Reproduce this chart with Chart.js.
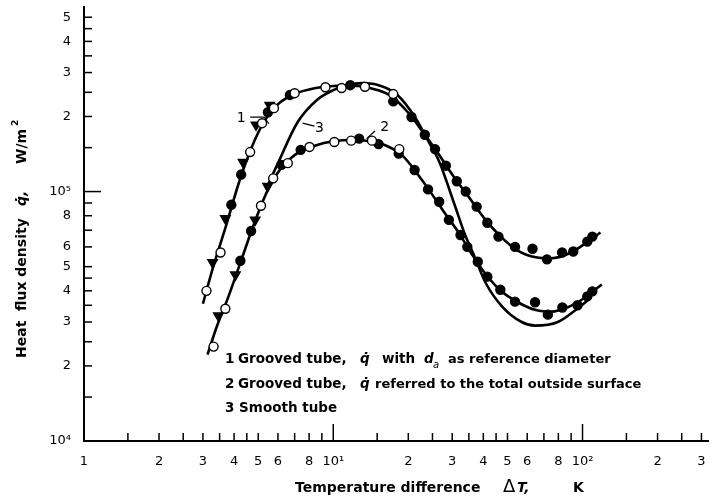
<!DOCTYPE html>
<html>
<head>
<meta charset="utf-8">
<script src="https://cdn.jsdelivr.net/npm/chart.js@4"></script>
<style>
  body { margin: 0; background: #fff; }
  canvas { display: block; }
</style>
</head>
<body>
<canvas id="myChart" width="715" height="497"></canvas>
<script>
// ---- data (dT in K, q in W/m2) ----
// curve 1: grooved tube, q with d_a as reference diameter
var curve1X = [3.0, 3.3, 3.7, 4.2, 4.7, 5.3, 6.0, 7.0, 8.5, 10, 12, 14, 17, 20, 23, 26, 30, 35, 40, 47, 55, 65, 75, 90, 105, 118];
var curve1Y = [3.55e4, 5.0e4, 7.2e4, 1.1e5, 1.5e5, 1.92e5, 2.24e5, 2.46e5, 2.6e5, 2.65e5, 2.66e5, 2.6e5, 2.42e5, 2.07e5, 1.72e5, 1.45e5, 1.17e5, 9.5e4, 7.9e4, 6.6e4, 5.8e4, 5.45e4, 5.4e4, 5.7e4, 6.3e4, 6.85e4];
var s1OpenX = [3.1, 3.53, 4.64, 5.18, 5.78, 7.0, 9.3, 10.8, 13.4, 17.4];
var s1OpenY = [4.0e4, 5.7e4, 1.44e5, 1.88e5, 2.16e5, 2.48e5, 2.62e5, 2.6e5, 2.63e5, 2.46e5];
var s1TriX = [3.28, 3.69, 4.35, 4.9, 5.56];
var s1TriY = [5.2e4, 7.8e4, 1.31e5, 1.85e5, 2.22e5];
var s1FillX = [3.9, 4.27, 5.47, 6.7, 11.7, 17.4, 20.6, 23.3, 25.6, 28.3, 31.3, 34, 37.6, 41.5, 46, 53.6, 63, 72, 82.8, 91.8, 104.5, 109.5];
var s1FillY = [8.85e4, 1.17e5, 2.08e5, 2.44e5, 2.67e5, 2.3e5, 1.99e5, 1.69e5, 1.48e5, 1.27e5, 1.1e5, 1.0e5, 8.7e4, 7.5e4, 6.6e4, 6.0e4, 5.9e4, 5.35e4, 5.7e4, 5.75e4, 6.3e4, 6.6e4];

// curve 2: grooved tube, q referred to the total outside surface
var curve2X = [3.13, 3.4, 3.8, 4.3, 4.9, 5.5, 6.2, 7, 8.5, 10, 12, 14, 16.5, 19, 22, 25, 28, 32, 36, 41, 47, 55, 65, 75, 88, 100, 110, 119.5];
var curve2Y = [2.22e4, 2.85e4, 3.8e4, 5.4e4, 7.8e4, 1.03e5, 1.25e5, 1.4e5, 1.53e5, 1.59e5, 1.61e5, 1.59e5, 1.52e5, 1.39e5, 1.16e5, 9.7e4, 8.2e4, 6.8e4, 5.6e4, 4.65e4, 4.0e4, 3.6e4, 3.35e4, 3.3e4, 3.45e4, 3.7e4, 3.98e4, 4.24e4];
var s2OpenX = [3.31, 3.69, 5.13, 5.74, 6.57, 8.03, 10.1, 11.8, 14.3, 18.4];
var s2OpenY = [2.39e4, 3.39e4, 8.77e4, 1.13e5, 1.3e5, 1.51e5, 1.58e5, 1.6e5, 1.6e5, 1.48e5];
var s2TriX = [3.46, 4.05, 4.86, 5.45];
var s2TriY = [3.18e4, 4.64e4, 7.7e4, 1.05e5];
var s2FillX = [4.24, 4.68, 6.2, 7.4, 12.7, 15.2, 18.3, 21.2, 24, 26.6, 29.1, 32.4, 34.5, 38, 41.5, 46.8, 53.6, 64.5, 72.6, 83, 95.5, 104.5, 109.5];
var s2FillY = [5.28e4, 6.95e4, 1.28e5, 1.47e5, 1.63e5, 1.55e5, 1.42e5, 1.22e5, 1.02e5, 9.1e4, 7.7e4, 6.7e4, 6.0e4, 5.23e4, 4.56e4, 4.04e4, 3.62e4, 3.6e4, 3.21e4, 3.43e4, 3.5e4, 3.8e4, 3.98e4];

// curve 3: smooth tube
var curve3X = [5.37, 6.0, 7.2, 8.6, 10, 11.5, 13, 15, 18, 21.4, 24, 26.6, 30.5, 34, 36.3, 40.9, 47.6, 57, 64.5, 79.6, 95.5, 106];
var curve3Y = [1.02e5, 1.3e5, 1.9e5, 2.33e5, 2.55e5, 2.68e5, 2.72e5, 2.68e5, 2.45e5, 1.97e5, 1.6e5, 1.32e5, 9.0e4, 6.6e4, 5.7e4, 4.3e4, 3.46e4, 3.0e4, 2.9e4, 3.0e4, 3.4e4, 3.7e4];

// axis ticks
var xTicks = [1, 1.5, 2, 2.5, 3, 3.5, 4, 4.5, 5, 6, 7, 8, 9, 10, 15, 20, 25, 30, 35, 40, 45, 50, 60, 70, 80, 90, 100, 150, 200, 250, 300];
var xTickLabels = {1: '1', 2: '2', 3: '3', 4: '4', 5: '5', 6: '6', 8: '8', 10: '10\u00b9', 20: '2', 30: '3', 40: '4', 50: '5', 60: '6', 80: '8', 100: '10\u00b2', 200: '2', 300: '3'};
var yTicks = [1e4, 1.5e4, 2e4, 2.5e4, 3e4, 3.5e4, 4e4, 4.5e4, 5e4, 6e4, 7e4, 8e4, 9e4, 1e5, 1.5e5, 2e5, 2.5e5, 3e5, 3.5e5, 4e5, 4.5e5, 5e5];
var yTickLabels = {10000: '10\u2074', 20000: '2', 30000: '3', 40000: '4', 50000: '5', 60000: '6', 80000: '8', 100000: '10\u2075', 200000: '2', 300000: '3', 400000: '4', 500000: '5'};

// curve numbers: [label, x, y, leader points]
var curveNotes = [
  ['1', 4.27, 1.97e5, [[4.64, 1.99e5], [5.28, 1.99e5], [5.52, 1.87e5]]],
  ['3', 8.8, 1.8e5, [[7.53, 1.88e5], [8.4, 1.83e5]]],
  ['2', 16.1, 1.81e5, [[14.7, 1.75e5], [13.6, 1.63e5]]]
];

function pts(xs, ys) {
  return xs.map(function (x, i) { return {x: x, y: ys[i]}; });
}

function lineSet(xs, ys) {
  return {data: pts(xs, ys), showLine: true, pointRadius: 0, borderColor: '#000', borderWidth: 2.6,
    cubicInterpolationMode: 'monotone', fill: false, order: 10};
}
function markSet(xs, ys, style, fillColor) {
  return {data: pts(xs, ys), showLine: false, pointStyle: style, rotation: style === 'triangle' ? 180 : 0,
    pointRadius: style === 'triangle' ? 5.5 : 4.5, backgroundColor: fillColor, borderColor: '#000',
    borderWidth: 1.4, order: 1};
}

var decorations = {
  id: 'decorations',
  beforeDraw: function (chart) {
    var c = chart.ctx;
    c.save();
    c.fillStyle = '#fff';
    c.fillRect(0, 0, chart.width, chart.height);
    c.restore();
  },
  afterDraw: function (chart) {
    var c = chart.ctx;
    var xs = chart.scales.x, ys = chart.scales.y;
    var area = chart.chartArea;
    c.save();
    c.strokeStyle = '#000';
    c.fillStyle = '#000';
    c.lineWidth = 1.5;
    // tick marks pointing inwards
    xTicks.forEach(function (v) {
      var px = xs.getPixelForValue(v);
      var len = (v === 10 || v === 100) ? 17 : 8;
      c.beginPath(); c.moveTo(px, area.bottom); c.lineTo(px, area.bottom - len); c.stroke();
    });
    yTicks.forEach(function (v) {
      var py = ys.getPixelForValue(v);
      var len = (v === 1e5) ? 17 : 8;
      c.beginPath(); c.moveTo(area.left, py); c.lineTo(area.left + len, py); c.stroke();
    });

    // curve numbers with leaders
    c.font = '14px "DejaVu Sans"';
    c.textAlign = 'center';
    c.textBaseline = 'middle';
    c.lineWidth = 1.2;
    curveNotes.forEach(function (n) {
      c.fillText(n[0], xs.getPixelForValue(n[1]), ys.getPixelForValue(n[2]));
      c.beginPath();
      n[3].forEach(function (p, i) {
        var px = xs.getPixelForValue(p[0]), py = ys.getPixelForValue(p[1]);
        if (i === 0) c.moveTo(px, py); else c.lineTo(px, py);
      });
      c.stroke();
    });

    // legend text
    c.textAlign = 'left';
    c.textBaseline = 'alphabetic';
    var bold = 'bold 13.5px "DejaVu Sans"';
    var ital = 'italic bold 13.5px "DejaVu Sans"';
    c.font = bold;
    c.fillText('1', 225, 363);
    c.fillText('Grooved tube,', 238, 363);
    c.font = ital; c.fillText('q\u0307', 360, 363);
    c.font = bold; c.fillText('with', 382, 363);
    c.font = ital; c.fillText('d', 424, 363);
    c.font = 'italic 10px "DejaVu Sans"'; c.fillText('a', 433, 368);
    c.font = 'bold 13px "DejaVu Sans"'; c.fillText('as reference diameter', 448, 363);
    c.font = bold;
    c.fillText('2', 225, 388);
    c.fillText('Grooved tube,', 238, 388);
    c.font = ital; c.fillText('q\u0307', 360, 388);
    c.font = 'bold 13px "DejaVu Sans"';
    c.fillText('referred to the total outside surface', 375, 388);
    c.font = bold;
    c.fillText('3 Smooth tube', 225, 412);

    // axis titles
    c.font = 'bold 14px "DejaVu Sans"';
    c.fillText('Temperature difference', 295, 492);
    c.font = '18px "DejaVu Sans"';
    c.fillText('\u0394', 503, 492);
    c.font = 'italic bold 14px "DejaVu Sans"';
    c.fillText('T,', 517, 492);
    c.font = 'bold 14px "DejaVu Sans"';
    c.fillText('K', 573, 492);

    c.translate(26, 358);
    c.rotate(-Math.PI / 2);
    c.fillText('Heat  flux density', 0, 0);
    c.font = 'italic bold 14px "DejaVu Sans"';
    c.fillText('q\u0307,', 152, 0);
    c.font = 'bold 14px "DejaVu Sans"';
    c.fillText('W/m', 194, 0);
    c.font = 'bold 9px "DejaVu Sans"';
    c.fillText('2', 232, -8);
    c.restore();
  }
};

var ctx = document.getElementById('myChart');
new Chart(ctx, {
  type: 'scatter',
  data: {
    datasets: [
      lineSet(curve1X, curve1Y),
      lineSet(curve2X, curve2Y),
      lineSet(curve3X, curve3Y),
      markSet(s1OpenX, s1OpenY, 'circle', '#fff'),
      markSet(s1FillX, s1FillY, 'circle', '#000'),
      markSet(s1TriX, s1TriY, 'triangle', '#000'),
      markSet(s2OpenX, s2OpenY, 'circle', '#fff'),
      markSet(s2FillX, s2FillY, 'circle', '#000'),
      markSet(s2TriX, s2TriY, 'triangle', '#000')
    ]
  },
  options: {
    responsive: false,
    animation: false,
    layout: {padding: {top: 6, right: 0, left: 0, bottom: 0}},
    plugins: {legend: {display: false}, tooltip: {enabled: false}},
    scales: {
      x: {
        type: 'logarithmic', min: 1, max: 319,
        afterBuildTicks: function (s) { s.ticks = xTicks.map(function (v) { return {value: v}; }); },
        afterFit: function (s) { s.height = 56; s.paddingLeft = 0; s.paddingRight = 0; },
        ticks: {
          autoSkip: false, maxRotation: 0, color: '#000', padding: 13,
          font: {family: '"DejaVu Sans"', size: 13},
          callback: function (v) { return xTickLabels[v] || ''; }
        },
        grid: {drawOnChartArea: false, drawTicks: false},
        border: {color: '#000', width: 2}
      },
      y: {
        type: 'logarithmic', min: 1e4, max: 5.5e5,
        afterBuildTicks: function (s) { s.ticks = yTicks.map(function (v) { return {value: v}; }); },
        afterFit: function (s) { s.width = 84; s.paddingTop = 0; s.paddingBottom = 0; },
        ticks: {
          autoSkip: false, color: '#000', padding: 13,
          font: {family: '"DejaVu Sans"', size: 13},
          callback: function (v) { return yTickLabels[v] || ''; }
        },
        grid: {drawOnChartArea: false, drawTicks: false},
        border: {color: '#000', width: 2}
      }
    }
  },
  plugins: [decorations]
});
</script>
</body>
</html>
